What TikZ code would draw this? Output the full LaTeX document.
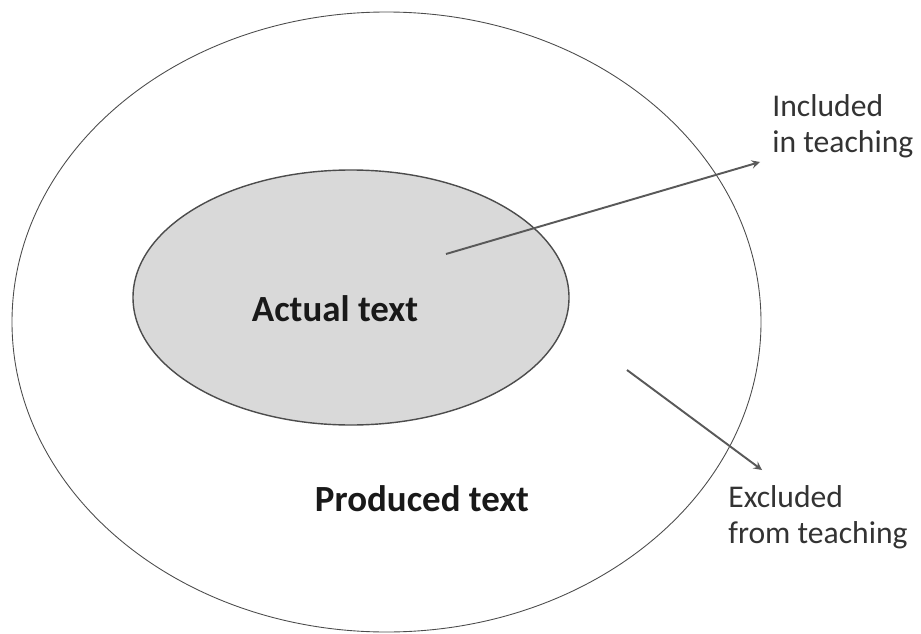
\documentclass[tikz,border=0pt]{standalone}
\usepackage{fontspec}
\setmainfont{Carlito}
\usetikzlibrary{shapes.geometric}

\begin{document}
\begin{tikzpicture}[>=stealth,
                region/.style={ellipse, draw=black!70, inner sep=0pt},
                note/.style={align=left, inner sep=0pt, text=black!80, font=\fontsize{18}{20}\selectfont},
                title/.style={inner sep=0pt, text=black!90, font=\fontsize{21}{23}\selectfont\bfseries},
                pointer/.style={->, draw=black!65, line width=1.1pt}]

                \useasboundingbox (0,0) rectangle (18.42,12.66);

                \node[region, line width=0.5pt, minimum width=14.98cm, minimum height=12.4cm] (produced) at (7.73,6.22) {};
                \node[region, line width=0.8pt, fill=black!15, minimum width=8.72cm, minimum height=5.1cm] (actual) at (7.02,6.71) {};

                \node[title, anchor=base] (actualtext) at (6.70,6.24) {Actual text};
                \node[title, anchor=base] (producedtext) at (8.44,2.44) {Produced text};

                \node[note, anchor=base west] (included) at (15.44,9.62) {Included\\in teaching};
                \node[note, anchor=base west] (excluded) at (14.56,1.80) {Excluded\\from teaching};

                \coordinate (instart) at (8.92,7.58);
                \coordinate (inend) at (15.20,9.42);
                \coordinate (exstart) at (12.54,5.26);
                \coordinate (exend) at (15.24,3.26);

                \draw[pointer] (instart) -- (inend);
                \draw[pointer] (exstart) -- (exend);
\end{tikzpicture}
\end{document}
